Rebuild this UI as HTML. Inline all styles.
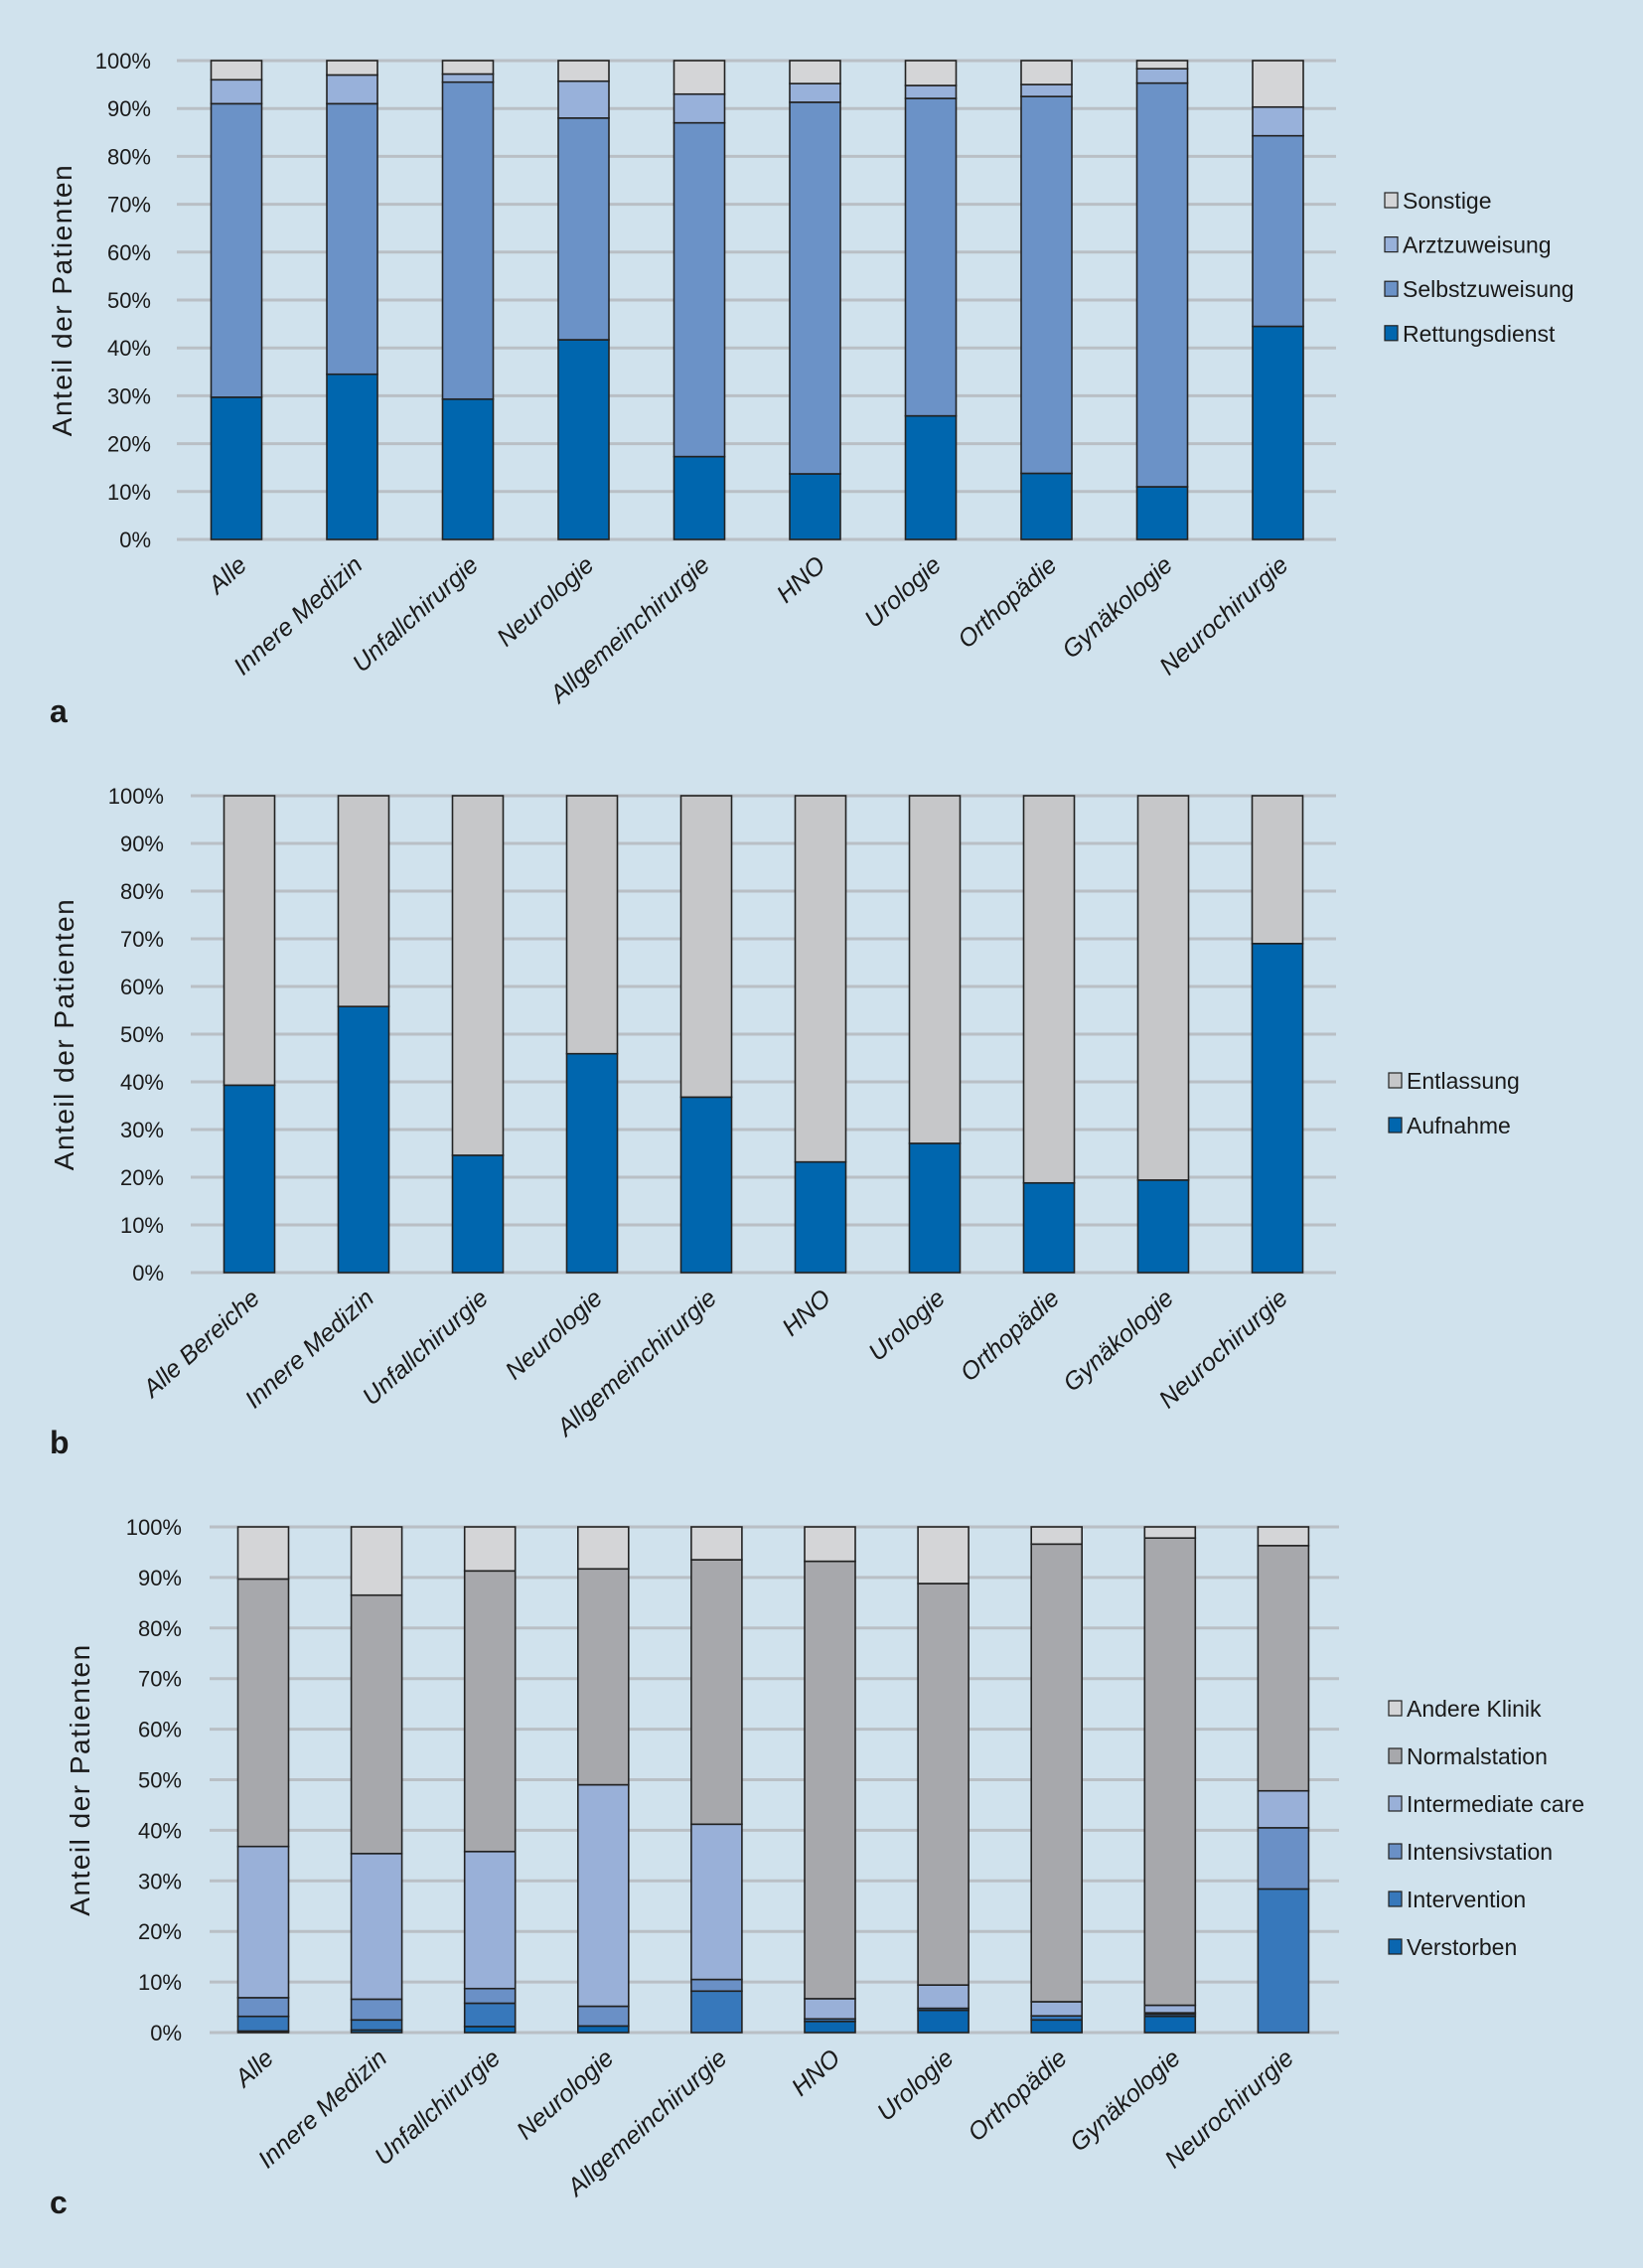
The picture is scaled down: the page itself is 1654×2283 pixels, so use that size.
<!DOCTYPE html>
<html><head><meta charset="utf-8"><style>
html,body{margin:0;padding:0;background:#d0e2ed;}
svg{display:block;}
text{font-family:"Liberation Sans",sans-serif;fill:#1a1a1a;}
</style></head><body>
<svg id="root" width="1654" height="2283" viewBox="0 0 1654 2283">
<rect width="1654" height="2283" fill="#d0e2ed"/>
<g id="chartA"></g>
<g id="chartB"></g>
<g id="chartC"></g>
</svg>
<script>
// ---- Chart A data ----
const catsA = ["Alle","Innere Medizin","Unfallchirurgie","Neurologie","Allgemeinchirurgie","HNO","Urologie","Orthopädie","Gynäkologie","Neurochirurgie"];
const rettungsdienst = [29.7,34.5,29.3,41.7,17.3,13.7,25.8,13.8,11.0,44.5];
const selbstzuweisung = [61.3,56.5,66.2,46.3,69.7,77.6,66.3,78.7,84.3,39.8];
const arztzuweisung = [5.0,6.0,1.7,7.7,6.0,3.9,2.7,2.5,3.0,6.0];
const sonstige = [4.0,3.0,2.8,4.3,7.0,4.8,5.2,5.0,1.7,9.7];
// ---- Chart B data ----
const catsB = ["Alle Bereiche","Innere Medizin","Unfallchirurgie","Neurologie","Allgemeinchirurgie","HNO","Urologie","Orthopädie","Gynäkologie","Neurochirurgie"];
const aufnahme = [39.3,55.8,24.6,45.9,36.8,23.2,27.1,18.8,19.4,69.0];
const entlassung = [60.7,44.2,75.4,54.1,63.2,76.8,72.9,81.2,80.6,31.0];
// ---- Chart C data ----
const catsC = ["Alle","Innere Medizin","Unfallchirurgie","Neurologie","Allgemeinchirurgie","HNO","Urologie","Orthopädie","Gynäkologie","Neurochirurgie"];
const verstorben = [0.3,0.5,1.2,1.3,0.0,2.2,4.4,2.5,3.2,0.0];
const intervention = [2.9,2.0,4.6,0.0,8.2,0.5,0.4,0.8,0.4,28.4];
const intensivstation = [3.7,4.1,2.9,3.9,2.3,0.0,0.0,0.0,0.3,12.1];
const intermediate = [29.9,28.8,27.1,43.8,30.7,4.0,4.6,2.8,1.5,7.3];
const normalstation = [52.9,51.1,55.5,42.7,52.3,86.5,79.4,90.5,92.4,48.5];
const andereKlinik = [10.3,13.5,8.7,8.3,6.5,6.8,11.2,3.4,2.2,3.7];
const ticks = ["0%","10%","20%","30%","40%","50%","60%","70%","80%","90%","100%"];

const NS="http://www.w3.org/2000/svg";
function mk(tag,attrs,parent){const e=document.createElementNS(NS,tag);for(const k in attrs)e.setAttribute(k,attrs[k]);parent.appendChild(e);return e;}

function drawChart(g,cfg){
  const y=v=>cfg.y0-(cfg.y0-cfg.y100)*v/100;
  const x=i=>cfg.xFirst+i*cfg.step;
  ticks.forEach((t,i)=>{
    const v=i*10;
    const ln=mk("line",{x1:cfg.gx0,x2:cfg.gx1,y1:y(v),y2:y(v),stroke:"#b9bfc5","stroke-width":3},g);
    
    
    const tx=mk("text",{x:cfg.tickX,y:y(v)+8,"text-anchor":"end","font-size":cfg.tickSize},g);
    tx.textContent=t;
    
    
  });
  cfg.cats.forEach((c,i)=>{
    let acc=0;
    cfg.series.forEach((s,si)=>{
      const v=s.vals[i];
      const r=mk("rect",{x:x(i)-cfg.bw/2,y:y(acc+v),width:cfg.bw,height:Math.max(0,y(acc)-y(acc+v)),fill:s.color,stroke:"#222","stroke-width":1.6},g);
      
      
      acc+=v;
    });
    const tx=mk("text",{x:0,y:0,"text-anchor":"end","font-size":25,"font-style":"italic",transform:`translate(${x(i)+12},${cfg.y0+28}) rotate(-42)`},g);
    tx.textContent=c;
    
    
  });
  const yt=mk("text",{x:0,y:0,"text-anchor":"middle","font-size":28,"letter-spacing":"1.5",transform:`translate(${cfg.titleX},${(cfg.y0+cfg.y100)/2}) rotate(-90)`},g);
  yt.textContent="Anteil der Patienten";
  
  
  const rev=cfg.series.slice().reverse();
  rev.forEach((s,k)=>{
    const ly=cfg.legY+k*cfg.legStep;
    const r=mk("rect",{x:cfg.legX,y:ly-8,width:13,height:15,fill:s.color,stroke:"#222","stroke-width":1.2},g);
    
    
    const t=mk("text",{x:cfg.legX+18,y:ly+8,"font-size":23},g);
    t.textContent=s.name;
    
    
  });
  const lb=mk("text",{x:cfg.lblX,y:cfg.lblY,"font-size":32,"font-weight":"bold"},g);
  lb.textContent=cfg.label;
  
  
}

drawChart(document.getElementById("chartA"),{
  cats:catsA,y0:543,y100:61,xFirst:238,step:116.5,bw:51,gx0:178,gx1:1345,tickX:152,tickSize:22,titleX:72,
  legX:1394,legY:202,legStep:44.6,lblX:50,lblY:727,label:"a",
  series:[{name:"Rettungsdienst",vals:rettungsdienst,color:"#0066ae"},
          {name:"Selbstzuweisung",vals:selbstzuweisung,color:"#6b92c7"},
          {name:"Arztzuweisung",vals:arztzuweisung,color:"#98b1da"},
          {name:"Sonstige",vals:sonstige,color:"#d4d5d7"}]
});
drawChart(document.getElementById("chartB"),{
  cats:catsB,y0:1281,y100:801,xFirst:251,step:115,bw:51,gx0:192,gx1:1345,tickX:165,tickSize:22,titleX:74,
  legX:1398,legY:1088,legStep:45,lblX:50,lblY:1463,label:"b",
  series:[{name:"Aufnahme",vals:aufnahme,color:"#0066ae"},
          {name:"Entlassung",vals:entlassung,color:"#c6c7c9"}]
});
drawChart(document.getElementById("chartC"),{
  cats:catsC,y0:2046,y100:1537,xFirst:265,step:114.1,bw:51,gx0:211,gx1:1348,tickX:183,tickSize:22,titleX:90,
  legX:1398,legY:1720,legStep:48,lblX:50,lblY:2228,label:"c",
  series:[{name:"Verstorben",vals:verstorben,color:"#0a66b0"},
          {name:"Intervention",vals:intervention,color:"#3778bb"},
          {name:"Intensivstation",vals:intensivstation,color:"#6a90c6"},
          {name:"Intermediate care",vals:intermediate,color:"#99b0d8"},
          {name:"Normalstation",vals:normalstation,color:"#a7a8ac"},
          {name:"Andere Klinik",vals:andereKlinik,color:"#d4d5d7"}]
});
</script>
</body></html>
